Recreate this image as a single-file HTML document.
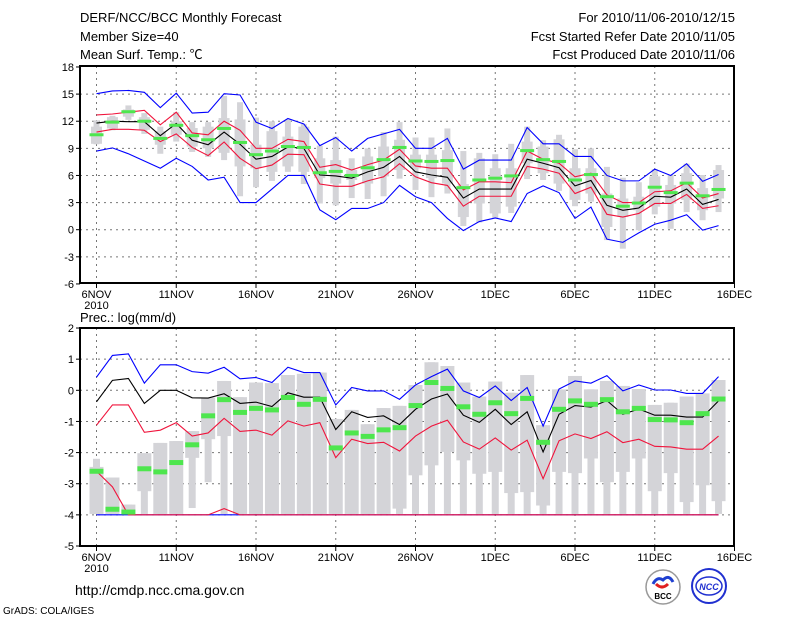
<!DOCTYPE html>
<html><head><meta charset="utf-8"><style>
body{margin:0;background:#fff;}
svg{display:block;font-family:"Liberation Sans","Noto Sans CJK SC",sans-serif;}
</style></head><body>
<svg id="c" width="800" height="618" viewBox="0 0 800 618">
<g font-size="13" fill="#000">
<text x="80" y="22">DERF/NCC/BCC Monthly Forecast</text>
<text x="80" y="41">Member Size=40</text>
<text x="80" y="59">Mean Surf. Temp.: ℃</text>
<text x="735" y="22" text-anchor="end">For 2010/11/06-2010/12/15</text>
<text x="735" y="41" text-anchor="end">Fcst Started Refer Date 2010/11/05</text>
<text x="735" y="59" text-anchor="end">Fcst Produced Date 2010/11/06</text>
<text x="80" y="322">Prec.: log(mm/d)</text>
<text x="75" y="595" font-size="14">http://cmdp.ncc.cma.gov.cn</text>
<text x="3" y="614" font-size="10">GrADS: COLA/IGES</text>
</g>
<g>
<circle cx="663" cy="587" r="17" fill="#fff" stroke="#999" stroke-width="1.5"/>
<path d="M653 584 q4 -8 10 -4 q6 -6 10 2" fill="none" stroke="#2040d0" stroke-width="3"/>
<path d="M656 584 q6 6 12 0" fill="none" stroke="#e02020" stroke-width="3"/>
<text x="663" y="599" font-size="8" font-weight="bold" text-anchor="middle">BCC</text>
</g>
<g>
<circle cx="709" cy="586" r="17" fill="#fff" stroke="#2030d0" stroke-width="2"/>
<ellipse cx="709" cy="586" rx="13" ry="9" fill="none" stroke="#2030d0" stroke-width="1.5"/>
<text x="709" y="590" font-size="9" font-weight="bold" font-style="italic" fill="#2030d0" text-anchor="middle">NCC</text>
</g>
</svg>
<script>
// ---- temperature panel data (days 0..39 = 6NOV..15DEC) ----
const days = Array.from({length:40},(_,i)=>i);
const tBlueHi=[15.05,15.35,15.4,15.2,13.5,15.1,12.9,13.0,15.05,14.9,11.9,11.2,12.3,11.7,9.3,10.2,8.7,10.1,10.6,11.1,9.0,9.0,10.1,6.7,7.7,7.7,7.7,11.3,9.5,9.5,8.1,8.1,6.0,5.4,5.4,6.7,6.0,7.3,5.35,6.1];
const tBlueLo=[8.7,9.05,8.4,7.6,6.8,7.9,7.0,5.5,5.8,3.0,3.0,4.5,6.0,6.0,2.2,1.1,2.35,2.35,3.0,4.9,3.65,3.0,1.25,-0.1,0.9,1.3,0.9,4.0,4.85,4.1,1.25,2.5,-1.05,-1.4,-0.35,0.6,1.05,1.65,-0.05,0.45];
const tRedHi=[12.7,12.8,13.0,13.2,11.6,13.0,10.7,10.5,12.0,11.0,9.0,9.0,10.0,9.75,6.9,7.2,6.6,7.2,7.7,8.9,7.05,6.8,6.8,4.4,5.3,5.3,5.2,8.7,7.8,7.35,5.85,6.25,3.85,3.0,3.0,4.2,4.3,5.2,3.5,4.0];
const tRedLo=[10.8,11.1,11.1,11.0,9.75,10.6,9.1,8.2,9.7,7.9,6.75,7.15,8.35,8.3,5.05,4.8,4.8,5.4,5.85,7.3,5.85,5.2,4.9,2.6,3.7,3.7,3.7,7.0,6.7,6.25,4.0,4.7,1.7,1.4,1.8,2.9,2.9,3.9,2.35,2.65];
const tMean=[11.8,12.0,11.95,11.95,10.4,11.75,9.9,9.4,10.8,9.45,7.8,8.1,9.15,9.0,6.05,5.95,5.7,6.4,6.9,8.1,6.4,6.05,5.8,3.5,4.5,4.5,4.5,7.8,7.35,6.85,4.85,5.45,2.7,2.15,2.4,3.7,3.6,4.5,2.8,3.35];
const tObs=[10.5,11.9,13.05,12.0,10.1,11.55,10.4,9.95,11.2,9.65,8.3,8.7,9.2,9.1,6.3,6.45,6.0,6.85,7.75,9.1,7.6,7.55,7.65,4.65,5.5,5.7,5.95,8.75,7.75,7.55,5.5,6.1,3.65,2.6,2.95,4.7,4.1,5.15,3.75,4.45];
const tWhiskHi=[12.1,12.6,13.75,12.9,11.4,13.0,11.9,11.9,14.8,14.1,12.4,12.0,12.2,11.7,9.3,10.3,7.9,9.0,10.8,11.9,10.2,10.2,11.2,8.7,8.5,8.35,9.5,11.4,9.9,10.5,8.9,9.0,6.95,5.75,5.25,6.7,6.05,7.3,6.05,7.15];
const tWhiskLo=[9.45,11.0,12.15,10.6,8.4,9.75,8.6,8.05,7.7,3.7,4.7,5.4,6.4,5.05,2.9,2.7,3.5,3.4,3.7,5.65,4.4,3.6,4.0,0.4,0.8,1.25,1.85,5.6,5.5,4.3,2.6,3.1,-1.15,-2.1,-0.05,1.7,0.1,1.95,1.05,1.95];
const tBoxHi=[11.4,12.45,13.3,12.45,10.9,12.0,11.25,11.4,12.35,12.2,9.4,10.9,10.3,11.4,7.9,7.7,6.6,8.1,9.2,9.95,8.3,8.3,8.8,5.05,7.9,6.8,6.8,9.75,9.2,10.0,6.8,6.8,4.0,3.45,3.65,5.9,4.95,6.25,4.6,6.6];
const tBoxLo=[9.5,11.2,12.5,11.05,9.4,10.5,9.2,9.0,8.5,7.0,6.8,6.4,7.0,6.4,5.7,5.1,5.5,5.1,5.9,6.6,6.8,5.7,5.1,1.4,2.9,1.8,2.55,7.35,6.25,5.1,3.3,4.0,0.3,1.4,2.15,2.55,2.9,3.3,2.15,3.45];
const tTicks=[18,15,12,9,6,3,0,-3,-6];
// ---- precipitation panel data ----
const pBlueHi=[0.42,1.12,1.17,0.23,0.82,0.82,0.6,0.55,0.74,0.37,0.41,0.25,0.74,0.57,0.57,-0.47,0.09,-0.02,-0.02,-0.29,0.17,0.44,0.68,-0.02,-0.23,0.14,-0.33,0.09,-1.15,0.04,0.3,0.23,0.47,-0.02,0.17,0.01,0.01,-0.1,-0.1,0.44];
const pBlueLo=[-4,-4,-4,-4,-4,-4,-4,-4,-4,-4,-4,-4,-4,-4,-4,-4,-4,-4,-4,-4,-4,-4,-4,-4,-4,-4,-4,-4,-4,-4,-4,-4,-4,-4,-4,-4,-4,-4,-4,-4];
const pRedHi=[-1.12,-0.47,-0.47,-1.35,-1.28,-1.04,-1.47,-1.37,-0.9,-1.32,-1.28,-1.44,-0.98,-1.15,-1.04,-2.16,-1.57,-1.71,-1.67,-1.95,-1.47,-1.15,-0.96,-1.66,-1.89,-1.53,-1.92,-1.6,-2.84,-1.62,-1.4,-1.55,-1.33,-1.68,-1.57,-1.8,-1.82,-1.89,-1.89,-1.47];
const pRedLo=[-2.6,-3.1,-4,-4,-4,-4,-4,-4,-3.8,-4,-4,-4,-4,-4,-4,-4,-4,-4,-4,-4,-4,-4,-4,-4,-4,-4,-4,-4,-4,-4,-4,-4,-4,-4,-4,-4,-4,-4,-4,-4];
const pMean=[-0.37,0.32,0.38,-0.42,0,0,-0.24,-0.25,-0.11,-0.42,-0.38,-0.52,-0.08,-0.22,-0.22,-1.26,-0.69,-0.87,-0.82,-1.1,-0.61,-0.28,-0.12,-0.8,-1.03,-0.61,-1.1,-0.69,-1.98,-0.77,-0.49,-0.54,-0.33,-0.77,-0.6,-0.8,-0.8,-0.86,-0.86,-0.34];
const pObs=[-2.6,-3.82,-3.91,-2.52,-2.62,-2.32,-1.75,-0.82,-0.3,-0.71,-0.58,-0.63,-0.23,-0.45,-0.29,-1.85,-1.37,-1.48,-1.27,-1.2,-0.49,0.25,0.06,-0.53,-0.77,-0.4,-0.75,-0.26,-1.67,-0.61,-0.34,-0.45,-0.3,-0.69,-0.58,-0.94,-0.95,-1.04,-0.75,-0.28];
const pWhiskHi=[-2.2,-2.8,-3.67,-2.02,-1.69,-1.63,-1.31,-0.23,0.3,-0.22,0.25,0.23,0.49,0.53,0.57,-0.92,-0.63,-1.09,-0.57,-0.5,0.17,0.9,0.78,0.25,-0.2,0.28,-0.08,0.49,-1.12,0.03,0.46,0.03,0.3,0.14,0.04,-0.47,-0.4,-0.2,-0.1,0.33];
const pWhiskLo=[-3.97,-3.97,-3.97,-3.97,-3.97,-3.97,-3.78,-2.95,-3.97,-3.97,-3.97,-3.97,-3.97,-3.97,-3.97,-3.97,-3.97,-3.97,-3.97,-3.97,-3.97,-3.97,-3.97,-3.97,-3.97,-3.97,-3.97,-3.97,-3.97,-3.97,-3.97,-3.97,-3.97,-3.97,-3.97,-3.97,-3.97,-3.97,-3.97,-3.97];
const pBoxHi=[-2.46,-2.8,-3.67,-2.02,-1.69,-1.63,-1.31,-0.23,0.3,-0.22,0.25,0.23,0.49,0.53,0.57,-0.92,-0.63,-1.09,-0.57,-0.5,0.17,0.9,0.78,0.25,-0.2,0.28,-0.08,0.49,-1.12,0.03,0.46,0.03,0.3,0.14,0.04,-0.47,-0.4,-0.2,-0.1,0.33];
const pBoxLo=[-3.97,-3.97,-3.97,-3.24,-3.97,-3.97,-2.17,-1.57,-1.47,-3.97,-3.97,-3.97,-3.97,-3.97,-3.97,-3.97,-3.97,-3.97,-3.97,-3.8,-2.73,-2.41,-1.98,-2.25,-2.68,-2.62,-3.3,-3.27,-3.7,-2.62,-2.66,-2.19,-2.95,-2.62,-2.19,-3.24,-2.66,-3.59,-3.05,-3.56];
const pTicks=[2,1,0,-1,-2,-3,-4,-5];
const xLabels=["6NOV","11NOV","16NOV","21NOV","26NOV","1DEC","6DEC","11DEC","16DEC"];
const xLabelDays=[0,5,10,15,20,25,30,35,40];

const NS="http://www.w3.org/2000/svg";
const svg=document.getElementById('c');
const X=d=>96.5+15.95*d;
const L=80,R=734;
function mk(tag,attrs,parent){const e=document.createElementNS(NS,tag);for(const k in attrs)e.setAttribute(k,attrs[k]);(parent||svg).appendChild(e);return e;}

function panel(name,Y,top,bot,ticks,boxW,whW,greenH,series,boxes,obs,wh,bl){
  const g=mk('g',{});
  
  
  // grid
  ticks.forEach(v=>{const y=Y(v);
    if(y>top+1&&y<bot-1){const l=mk('line',{x1:L,x2:R,y1:y,y2:y,stroke:'#777','stroke-dasharray':'2,4','stroke-width':1},g);
      }
    const t=mk('text',{x:74,y:y+4,'font-size':11,'text-anchor':'end'},g);t.textContent=v;
    
    mk('line',{x1:L-4,x2:L,y1:y,y2:y,stroke:'#000'},g);
  });
  xLabelDays.forEach((d,i)=>{const x=X(d);
    if(x<R-2){const l=mk('line',{x1:x,x2:x,y1:top,y2:bot,stroke:'#777','stroke-dasharray':'2,4'},g);
      }
    mk('line',{x1:x,x2:x,y1:bot,y2:bot+5,stroke:'#000'},g);
    const t=mk('text',{x:x,y:bot+15,'font-size':11,'text-anchor':'middle'},g);t.textContent=xLabels[i];
    
  });
  const yr=mk('text',{x:X(0),y:bot+26,'font-size':11,'text-anchor':'middle'},g);yr.textContent='2010';
  
  // boxes
  days.forEach(d=>{
    const w=mk('rect',{x:X(d)-whW/2,y:Y(wh[0][d]),width:whW,height:Math.max(1,Y(wh[1][d])-Y(wh[0][d])),fill:'#d4d4d8'},g);
    
    const b=mk('rect',{x:X(d)-boxW/2,y:Y(bl[0][d]),width:boxW,height:Math.max(1,Y(bl[1][d])-Y(bl[0][d])),fill:'#d4d4d8'},g);
    
  });
  series.forEach(([arr,col,nm])=>{
    const p=mk('polyline',{points:arr.map((v,d)=>X(d)+','+Y(v)).join(' '),fill:'none',stroke:col,'stroke-width':1.1},g);
    
  });
  days.forEach(d=>{
    const o=mk('rect',{x:X(d)-7,y:Y(obs[d])-greenH/2,width:14,height:greenH,fill:'#4ee64e'},g);
    
  });
  const f=mk('rect',{x:L,y:top,width:R-L,height:bot-top,fill:'none',stroke:'#000','stroke-width':2},g);
  
}
const YT=v=>229.7-9.04*v;
panel('temperature-panel',YT,66,283,tTicks,11,6,3,
 [[tBlueHi,'#0000ff','blue-upper-line'],[tBlueLo,'#0000ff','blue-lower-line'],[tRedHi,'#f0143c','red-upper-line'],[tRedLo,'#f0143c','red-lower-line'],[tMean,'#000','ensemble-mean-line']],
 null,tObs,[tWhiskHi,tWhiskLo],[tBoxHi,tBoxLo]);
const YB=v=>390.3-31.14*v;
panel('precipitation-panel',YB,328,546,pTicks,14,7,5,
 [[pBlueHi,'#0000ff','blue-upper-line'],[pBlueLo,'#0000ff','blue-lower-line'],[pRedHi,'#f0143c','red-upper-line'],[pRedLo,'#f0143c','red-lower-line'],[pMean,'#000','ensemble-mean-line']],
 null,pObs,[pWhiskHi,pWhiskLo],[pBoxHi,pBoxLo]);
</script>
</body></html>
